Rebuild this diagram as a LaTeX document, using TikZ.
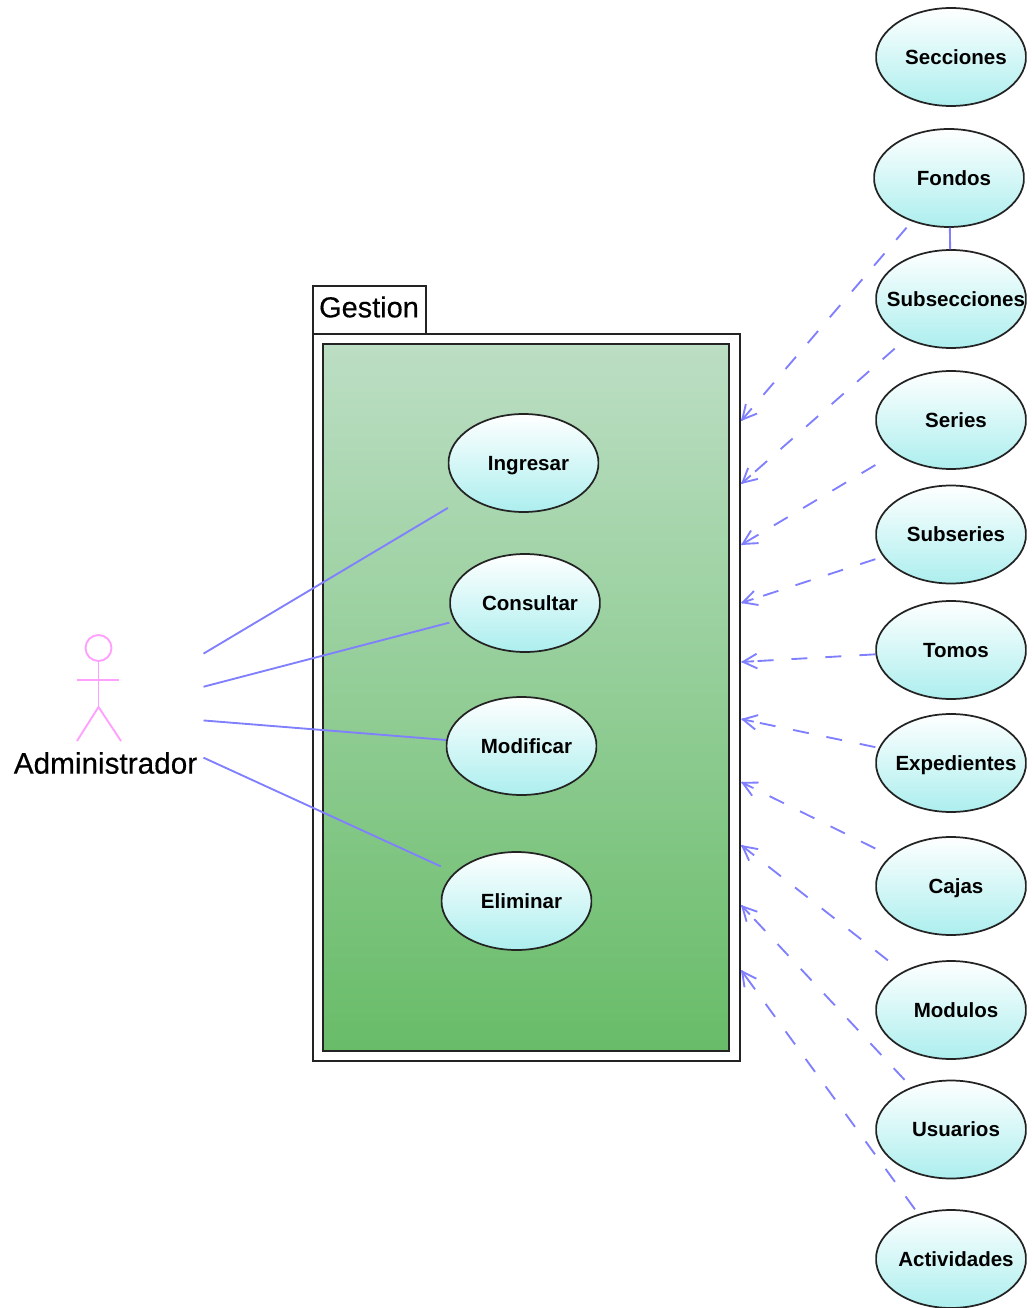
\documentclass[tikz,border=0pt]{standalone}
\usepackage{fontspec}
\setmainfont{Liberation Sans}
\newfontfamily\labelfont[FakeBold=0.4]{Liberation Sans}
\usetikzlibrary{arrows.meta}
\definecolor{linkblue}{RGB}{128,128,255}
\definecolor{actorpink}{RGB}{255,160,255}
\definecolor{caseedge}{RGB}{35,35,35}
\definecolor{casecyan}{RGB}{172,238,238}
\definecolor{packtop}{RGB}{188,222,196}
\definecolor{packbottom}{RGB}{104,188,104}
\tikzset{
    usecase/.style={rectangle, inner sep=0pt, outer sep=0pt,
        minimum width=113.5pt, minimum height=74.5pt,
        text height=11pt, text depth=0pt,
        font=\fontsize{15.4}{18}\selectfont\bfseries,
        execute at begin node=\hspace*{7.5pt},
        path picture={
            \shade[top color=white, bottom color=casecyan, draw=caseedge, line width=1.3pt]
                (path picture bounding box.center) ellipse (56.25pt and 36.75pt);
        }},
    packline/.style={draw=caseedge, line width=1.2pt},
    assoc/.style={draw=linkblue, line width=1.4pt},
    depend/.style={assoc, dash pattern=on 12pt off 13.5pt,
        -{Straight Barb[length=10.5pt,width=11pt,sep=-10.5pt]Rectangle[length=10.5pt,width=1.4pt]}},
    bigtext/.style={font=\labelfont\fontsize{21.7}{25}\selectfont, inner sep=0pt}
}
\begin{document}
\begin{tikzpicture}[x=0.75pt,y=-0.75pt]
    \useasboundingbox (0,0) rectangle (1033,1308);
    % Package
    \draw[packline, fill=white] (313,286) rectangle (426,334);
    \draw[packline, fill=white] (313,334) rectangle (740,1061);
    \shade[packline, top color=packtop, bottom color=packbottom] (323,344) rectangle (729,1051);
    \node[bigtext] (gestion) at (369,307) {Gestion};
    % Actor
    \draw[actorpink, line width=1.4pt] (98.5,648) circle (13);
    \draw[actorpink, line width=1.4pt] (98.5,661) -- (98.5,707);
    \draw[actorpink, line width=1.4pt] (77,680) -- (119,680);
    \draw[actorpink, line width=1.4pt] (77,741) -- (98.5,707) -- (121,741);
    \node[bigtext, font=\labelfont\fontsize{22.3}{25}\selectfont] (administrador) at (105.5,763) {Administrador};
    \node[minimum width=148.5pt, minimum height=120pt, inner sep=0pt, outer sep=0pt] (actor) at (104.5,712.5) {};
    % Left use cases
    \node[usecase] (ingresar) at (523.5,463) {Ingresar};
    \node[usecase] (consultar) at (525,603) {Consultar};
    \node[usecase] (modificar) at (521.5,746) {Modificar};
    \node[usecase] (eliminar) at (516.5,901) {Eliminar};
    \foreach \n in {ingresar,consultar,modificar,eliminar} {
        \draw[assoc] (actor) -- (\n);
    }
    % Right use cases
    \node[usecase] (secciones) at (951,57) {Secciones};
    \node[usecase] (fondos) at (949,178) {Fondos};
    \node[usecase] (subsecciones) at (951,299) {Subsecciones};
    \node[usecase] (series) at (951,420) {Series};
    \node[usecase] (subseries) at (951,534.5) {Subseries};
    \node[usecase] (tomos) at (951,650) {Tomos};
    \node[usecase] (expedientes) at (951,763) {Expedientes};
    \node[usecase] (cajas) at (951,886) {Cajas};
    \node[usecase] (modulos) at (951,1010) {Modulos};
    \node[usecase] (usuarios) at (951,1129.5) {Usuarios};
    \node[usecase] (actividades) at (951,1259) {Actividades};
    \draw[assoc] (fondos) -- (subsecciones);
    \foreach \n/\y in {fondos/421,subsecciones/484,series/545,subseries/603,tomos/662,
                       expedientes/719,cajas/782,modulos/845,usuarios/905,actividades/970} {
        \coordinate (end-\n) at (741,\y);
        \draw[depend] (\n) -- (end-\n);
    }
\end{tikzpicture}
\end{document}
